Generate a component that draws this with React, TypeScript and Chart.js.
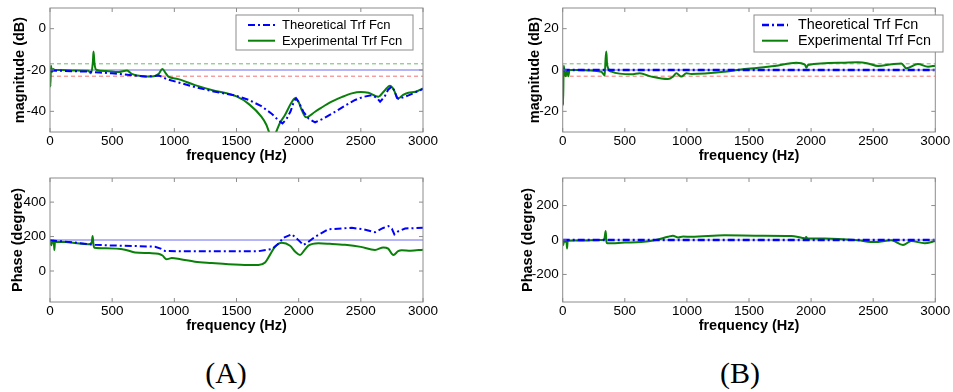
import { useEffect, useRef } from "react";
import { Chart, registerables } from "chart.js";
Chart.register(...registerables);

type P = [number, number];

// ---- ticks ----
const freqTicks = [0, 500, 1000, 1500, 2000, 2500, 3000];
const magATicks = [-40, -20, 0];
const phaseATicks = [0, 200, 400];
const magBTicks = [-20, 0, 20];
const phaseBTicks = [-200, 0, 200];

// ---- reference levels ----
const magARefLevels = [-20, -17, -23];
const magBRefLevels = [0, 3, -3];
const phaseARefLevel = 180;
const phaseBRefLevel = 0;

const seriesLabels = ["Theoretical Trf Fcn", "Experimental Trf Fcn"];

// ---- (A) magnitude ----
const magATheo: P[] = [
  [0, -20.3], [100, -20.4], [308, -20.8], [400, -21.2], [496, -21.6], [600, -22.2], [764, -23.2],
  [840, -22.9], [872, -22.7], [900, -23.2], [938, -24.4], [1032, -26], [1150, -28], [1300, -30.2],
  [1500, -32.5], [1600, -34.5], [1700, -37.5], [1780, -41], [1840, -44.5], [1870, -45.8], [1900, -44],
  [1935, -40], [1960, -35.5], [1979, -33.7], [2000, -35.5], [2038, -40.2], [2080, -43.5], [2132, -45.3],
  [2200, -43.5], [2293, -40.2], [2380, -37], [2454, -34.5], [2520, -33], [2588, -32.2], [2630, -33.5],
  [2655, -35.3], [2690, -33], [2720, -29.5], [2749, -28], [2770, -30], [2790, -33.5], [2802, -34],
  [2883, -32.3], [2950, -30.5], [3000, -29.2],
];
const magAExp: P[] = [
  [0, -19], [3, -28], [8, -18], [15, -21], [25, -19.5], [40, -20], [100, -20], [200, -20.2], [308, -20.4],
  [330, -21.6], [345, -16], [350, -11.1], [358, -17], [375, -20], [450, -20.5], [550, -21], [620, -20.2],
  [657, -21.9], [750, -23], [818, -23.2], [872, -22], [904, -19.5], [930, -21.5], [952, -23.2], [1032, -24.4],
  [1166, -27.3], [1300, -29.7], [1500, -32.8], [1600, -36.5], [1700, -42.6], [1740, -46.5], [1765, -50.5],
  [1790, -53], [1815, -50.5], [1850, -45.5], [1890, -41.8], [1940, -36], [1971, -33.7], [2000, -35.5],
  [2025, -39.4], [2060, -42.9], [2132, -40.2], [2239, -36.1], [2350, -33], [2427, -31.3], [2500, -30.6],
  [2561, -31], [2641, -32.9], [2690, -30], [2735, -27.6], [2760, -29], [2802, -33.7], [2840, -32],
  [2883, -31], [2940, -30.5], [3000, -28.9],
];

// ---- (A) phase ----
const phaseATheo: P[] = [
  [0, 178], [100, 172], [200, 165], [308, 155], [362, 152], [500, 148], [700, 145], [845, 141], [890, 130],
  [925, 116], [1032, 115], [1300, 114], [1676, 115], [1784, 127], [1840, 160], [1877, 193], [1944, 213],
  [1990, 185], [2038, 151], [2080, 170], [2132, 199], [2239, 242], [2427, 251], [2520, 242], [2614, 225],
  [2680, 250], [2722, 261], [2750, 245], [2770, 213], [2800, 230], [2856, 247], [3000, 251],
];
const phaseAExp: P[] = [
  [0, 175], [10, 150], [20, 172], [30, 175], [35, 122], [40, 170], [121, 168], [200, 163], [308, 155],
  [335, 165], [343, 203], [350, 150], [357, 135], [450, 132], [603, 124], [684, 108], [800, 104], [872, 100],
  [905, 90], [938, 68], [960, 72], [979, 75], [1050, 68], [1166, 54], [1300, 46], [1435, 39], [1600, 35],
  [1676, 35], [1730, 49], [1770, 95], [1810, 141], [1864, 164], [1931, 147], [1975, 110], [2011, 93],
  [2045, 120], [2078, 147], [2159, 161], [2250, 158], [2373, 152], [2500, 140], [2614, 122], [2681, 137],
  [2720, 130], [2762, 93], [2800, 115], [2829, 120], [2900, 118], [3000, 124],
];

// ---- (B) magnitude ----
const magBTheo: P[] = [[0, 0], [3000, 0]];
const magBExp: P[] = [
  [0, 0], [3, -17], [8, 2], [15, -1], [25, -3], [35, 0], [45, -3], [55, 0], [121, 0], [311, -0.8],
  [338, -2.7], [345, 5], [351, 8.9], [358, 2.4], [392, -0.8], [553, -2.1], [620, -1.6], [714, -3.2],
  [848, -4.4], [888, -3.2], [915, -1.6], [955, -3.2], [996, -1.6], [1036, -1.9], [1304, -0.8], [1465, 0.5],
  [1707, 1.9], [1881, 3.5], [1950, 2.6], [1962, 1.1], [1975, 2.4], [2243, 3.5], [2377, 3.7], [2450, 3.3],
  [2539, 1.9], [2650, 2.8], [2727, 3.2], [2767, 0.8], [2860, 2.9], [2941, 1.6], [3000, 2.1],
];

// ---- (B) phase ----
const phaseBTheo: P[] = [[0, 0], [3000, 0]];
const phaseBExp: P[] = [
  [0, 0], [5, -30], [10, -5], [20, -10], [30, -5], [35, -50], [40, -5], [100, -3], [311, 0], [335, 5],
  [346, 52], [352, -10], [359, -19], [500, -15], [632, -12], [750, 0], [848, 19], [888, 25], [929, 14],
  [969, 20], [1036, 19], [1304, 27], [1572, 25], [1841, 23], [1930, 12], [1955, 10], [1960, 18], [1970, 8],
  [2110, 8], [2377, -2], [2512, -12], [2646, -2], [2740, -29], [2807, -6], [2914, -19], [3000, -6],
];

const FONT = '"Liberation Sans", Arial, Helvetica, sans-serif';
const BLUE = "#0000ff";
const GREEN = "#0a800a";
const REF_BLUE = "#6a6aef";
const REF_GREEN = "#6cbd6c";
const REF_RED = "#ef7373";

interface LegendSpec { dxRight: number; dy: number; w: number; h: number; font: number; s0: number; s1: number; tx: number; r1: number; r2: number; }
interface Ref { v: number; color: string; dash: number[]; }
interface Spec {
  left: number; top: number; w: number; h: number;
  yAxisWidth: number; chartRight: number;
  yMin: number; yMax: number; yTicks: number[]; yTitle: string; yTitlePad: number;
  theo: P[]; exp: P[]; refs: Ref[]; legend?: LegendSpec; theoWidth: number;
}

const specs: Spec[] = [
  {
    left: 0, top: 0, w: 476, h: 170, yAxisWidth: 50, chartRight: 423,
    yMin: -50, yMax: 10, yTicks: magATicks, yTitle: "magnitude (dB)", yTitlePad: 11.3,
    theo: magATheo, exp: magAExp, theoWidth: 2,
    refs: [
      { v: magARefLevels[0], color: REF_BLUE, dash: [] },
      { v: magARefLevels[1], color: REF_GREEN, dash: [4, 3] },
      { v: magARefLevels[2], color: REF_RED, dash: [4, 3] },
    ],
    legend: { dxRight: -10, dy: 7, w: 177, h: 35, font: 13, s0: 12, s1: 39, tx: 46, r1: 10, r2: 25.7 },
  },
  {
    left: 0, top: 170, w: 476, h: 170, yAxisWidth: 50, chartRight: 423,
    yMin: -180, yMax: 540, yTicks: phaseATicks, yTitle: "Phase (degree)", yTitlePad: 9.3,
    theo: phaseATheo, exp: phaseAExp, theoWidth: 2,
    refs: [{ v: phaseARefLevel, color: REF_BLUE, dash: [] }],
  },
  {
    left: 476, top: 0, w: 477, h: 170, yAxisWidth: 86.7, chartRight: 459.3,
    yMin: -30, yMax: 30, yTicks: magBTicks, yTitle: "magnitude (dB)", yTitlePad: 50.3,
    theo: magBTheo, exp: magBExp, theoWidth: 2.5,
    refs: [
      { v: magBRefLevels[0], color: REF_BLUE, dash: [] },
      { v: magBRefLevels[1], color: REF_GREEN, dash: [4, 3] },
      { v: magBRefLevels[2], color: REF_RED, dash: [4, 3] },
    ],
    legend: { dxRight: 7.7, dy: 7, w: 189, h: 37, font: 14.4, s0: 8, s1: 34, tx: 44, r1: 10, r2: 25.7 },
  },
  {
    left: 476, top: 170, w: 477, h: 170, yAxisWidth: 86.7, chartRight: 459.3,
    yMin: -360, yMax: 360, yTicks: phaseBTicks, yTitle: "Phase (degree)", yTitlePad: 42.8,
    theo: phaseBTheo, exp: phaseBExp, theoWidth: 2.5,
    refs: [{ v: phaseBRefLevel, color: "#a0a0c8", dash: [] }],
  },
];

const toXY = (pts: P[]) => pts.map(([x, y]) => ({ x, y }));

function framePlugin(spec: Spec) {
  return {
    id: "frameLegend",
    afterDatasetsDraw(chart: any) {
      const { ctx, chartArea } = chart;
      const { left, right, top, bottom } = chartArea;
      const xs = chart.scales.x;
      const ys = chart.scales.y;
      ctx.save();
      ctx.strokeStyle = "#8c8c8c";
      ctx.lineWidth = 1;
      ctx.setLineDash([]);
      ctx.strokeRect(left, top, right - left, bottom - top);
      const tl = 4;
      ctx.beginPath();
      for (const t of xs.ticks) {
        const px = xs.getPixelForValue(t.value);
        ctx.moveTo(px, top); ctx.lineTo(px, top + tl);
        ctx.moveTo(px, bottom); ctx.lineTo(px, bottom - tl);
      }
      for (const t of ys.ticks) {
        const py = ys.getPixelForValue(t.value);
        ctx.moveTo(left, py); ctx.lineTo(left + tl, py);
        ctx.moveTo(right, py); ctx.lineTo(right - tl, py);
      }
      ctx.stroke();

      const lg = spec.legend;
      if (lg) {
        const bx = right + lg.dxRight - lg.w;
        const by = top + lg.dy;
        ctx.fillStyle = "#ffffff";
        ctx.fillRect(bx, by, lg.w, lg.h);
        ctx.strokeStyle = "#8c8c8c";
        ctx.strokeRect(bx, by, lg.w, lg.h);
        const rows = [lg.r1, lg.r2];
        for (let i = 0; i < 2; i++) {
          const ds = chart.data.datasets[i];
          const y = by + rows[i];
          ctx.strokeStyle = ds.borderColor;
          ctx.lineWidth = ds.borderWidth;
          ctx.setLineDash(ds.borderDash || []);
          ctx.beginPath();
          ctx.moveTo(bx + lg.s0, y);
          ctx.lineTo(bx + lg.s1, y);
          ctx.stroke();
          ctx.setLineDash([]);
          ctx.fillStyle = "#000";
          ctx.font = `${lg.font}px ${FONT}`;
          ctx.textAlign = "left";
          ctx.textBaseline = "middle";
          ctx.fillText(ds.label, bx + lg.tx, y + 0.5);
        }
      }
      ctx.restore();
    },
  };
}

function makeConfig(spec: Spec): any {
  const xMin = freqTicks[0];
  const xMax = freqTicks[freqTicks.length - 1];
  const datasets: any[] = [
    {
      label: seriesLabels[0], data: toXY(spec.theo), borderColor: BLUE, borderWidth: spec.theoWidth,
      borderDash: [7, 3, 2, 3], pointRadius: 0, fill: false, order: 0,
    },
    {
      label: seriesLabels[1], data: toXY(spec.exp), borderColor: GREEN, borderWidth: 2,
      pointRadius: 0, fill: false, order: 1, cubicInterpolationMode: "monotone",
    },
    ...spec.refs.map((r) => ({
      label: "", data: [{ x: xMin, y: r.v }, { x: xMax, y: r.v }], borderColor: r.color, borderWidth: 1,
      borderDash: r.dash, pointRadius: 0, fill: false, order: 5,
    })),
  ];
  const tickFont = { family: FONT, size: 13.5 };
  const titleFont = { family: FONT, size: 14.5, weight: "bold" as const };
  return {
    type: "line",
    data: { datasets },
    options: {
      animation: false,
      responsive: false,
      maintainAspectRatio: false,
      events: [],
      layout: { padding: { left: 0, top: 8, right: spec.w - spec.chartRight, bottom: 0 } },
      plugins: { legend: { display: false }, tooltip: { enabled: false } },
      scales: {
        x: {
          type: "linear", min: xMin, max: xMax,
          afterBuildTicks: (s: any) => { s.ticks = freqTicks.map((v) => ({ value: v })); },
          afterFit: (s: any) => { s.height = 38; s.paddingLeft = 0; s.paddingRight = 0; },
          grid: { display: false, drawTicks: false },
          border: { display: false },
          ticks: { padding: 1, color: "#000", font: tickFont, autoSkip: false, maxRotation: 0, callback: (v: any) => String(v) },
          title: { display: true, text: "frequency (Hz)", color: "#000", font: titleFont, padding: { top: 0, bottom: 5.3 } },
        },
        y: {
          type: "linear", min: spec.yMin, max: spec.yMax,
          afterBuildTicks: (s: any) => { s.ticks = spec.yTicks.map((v) => ({ value: v })); },
          afterFit: (s: any) => { s.width = spec.yAxisWidth; s.paddingTop = 0; s.paddingBottom = 0; },
          grid: { display: false, drawTicks: false },
          border: { display: false },
          ticks: { padding: 4, color: "#000", font: tickFont, callback: (v: any) => String(v) },
          title: { display: true, text: spec.yTitle, color: "#000", font: titleFont, padding: { top: spec.yTitlePad, bottom: 0 } },
        },
      },
    },
    plugins: [framePlugin(spec)],
  };
}

export default function App() {
  const canvasRefs = useRef<(HTMLCanvasElement | null)[]>([]);
  useEffect(() => {
    const charts = specs.map((s, i) => new Chart(canvasRefs.current[i] as HTMLCanvasElement, makeConfig(s)));
    return () => charts.forEach((c) => c.destroy());
  }, []);
  const labelStyle = (cx: number): React.CSSProperties => ({
    position: "absolute", left: cx - 50, top: 358, width: 100, textAlign: "center",
    fontFamily: '"Liberation Serif", "DejaVu Serif", serif', fontSize: 30, lineHeight: "30px", color: "#000",
  });
  return (
    <div style={{ position: "absolute", left: 0, top: 0, width: 953, height: 392, background: "#fff", overflow: "hidden" }}>
      {specs.map((s, i) => (
        <canvas
          key={i}
          ref={(el) => { canvasRefs.current[i] = el; }}
          width={s.w}
          height={s.h}
          style={{ position: "absolute", left: s.left, top: s.top, width: s.w, height: s.h }}
        />
      ))}
      <div style={labelStyle(226)}>(A)</div>
      <div style={labelStyle(740)}>(B)</div>
    </div>
  );
}
